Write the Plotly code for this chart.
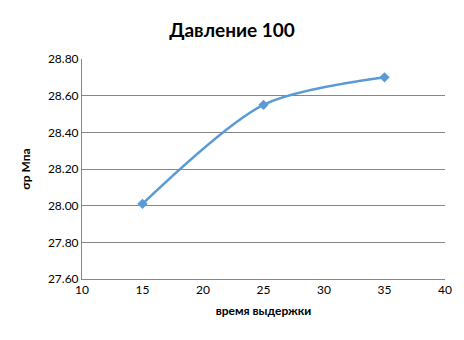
import plotly.graph_objects as go

x_vals = [15, 25, 35]
y_vals = [28.01, 28.55, 28.70]
x_ticks = [10, 15, 20, 25, 30, 35, 40]
y_ticks = [27.6, 27.8, 28.0, 28.2, 28.4, 28.6, 28.8]

fig = go.Figure()
fig.add_trace(go.Scatter(
    x=x_vals, y=y_vals, mode="lines+markers",
    line=dict(color="#5B9BD5", width=2.5, shape="spline", smoothing=0.8),
    marker=dict(symbol="diamond", size=8, color="#5B9BD5"),
    showlegend=False,
))

fig.update_layout(
    width=464, height=340,
    margin=dict(l=82, r=17, t=59, b=61),
    paper_bgcolor="white", plot_bgcolor="white",
    font=dict(family="Lato, Liberation Sans, sans-serif", color="black", size=12),
    title=dict(text="<b>Давление 100</b>", x=0.5, xanchor="center", y=0.91, yanchor="middle",
               font=dict(size=19, family="Lato", color="black")),
)
fig.update_xaxes(
    range=[10, 40], tickvals=x_ticks, ticktext=[str(v) for v in x_ticks],
    showgrid=False, showline=True, linecolor="#868686", linewidth=1,
    zeroline=False, ticks="", tickfont=dict(size=12),
    title=dict(text="<b>время выдержки</b>", font=dict(size=12), standoff=10),
)
fig.update_yaxes(
    range=[27.6, 28.8], tickvals=y_ticks, ticktext=[f"{v:.2f}" for v in y_ticks],
    showgrid=True, gridcolor="#868686", gridwidth=1,
    showline=True, linecolor="#868686", linewidth=1,
    zeroline=False, ticks="", tickfont=dict(size=12),
    title=dict(text="<b>σр Мпа</b>", font=dict(size=12), standoff=14),
)

fig.write_html("out.html")
